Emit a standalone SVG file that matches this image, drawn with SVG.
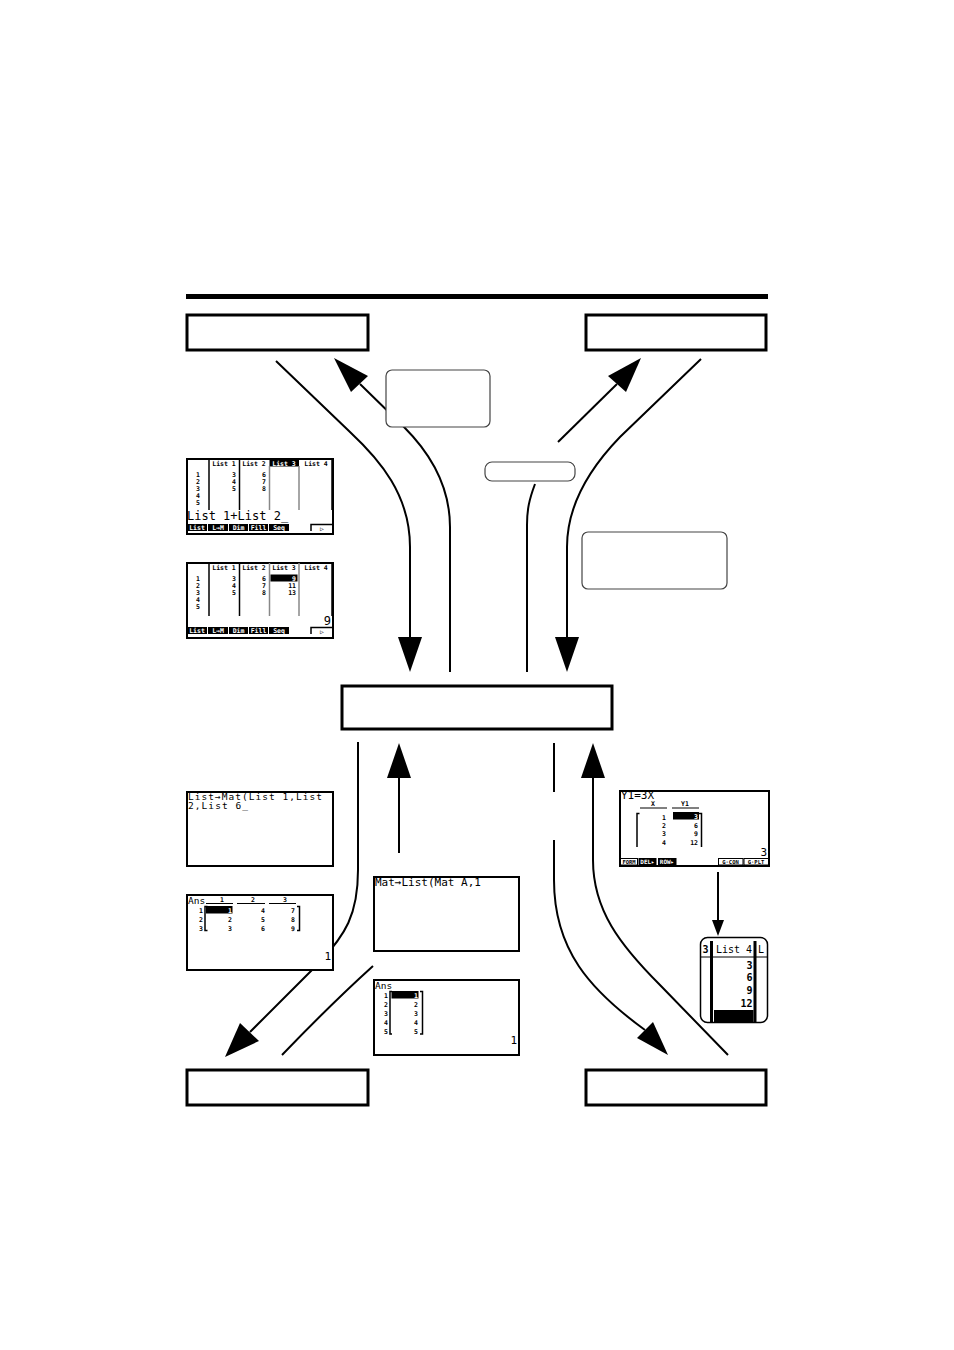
<svg xmlns="http://www.w3.org/2000/svg" width="954" height="1350" viewBox="0 0 954 1350">
<style>
.cn{fill:none;stroke:#000;stroke-width:2}
.ah{fill:#000}
.box{fill:#fff;stroke:#000;stroke-width:3}
.rb{fill:#fff;stroke:#444;stroke-width:1.2}
.scr{fill:#fff;stroke:#000;stroke-width:2}
.t{font-family:"DejaVu Sans Mono","Liberation Mono",monospace;fill:#000}
.s{font-size:6.5px;font-weight:bold}
.m{font-size:11px}
.l{font-size:12px}
.w{fill:#fff}
.e{text-anchor:end}
.c{text-anchor:middle}
.vl{stroke:#000;stroke-width:1.5}
.gl{stroke:#888;stroke-width:1.5}
.tab{fill:#000}
.ot{fill:#fff;stroke:#000;stroke-width:1}
.br{fill:none;stroke:#000;stroke-width:1.5}
</style>

<rect id="topbar" x="186" y="294" width="582" height="5" fill="#000"/>

<g id="connectors">
  <path class="cn" d="M276,361 L350,432 C380,460 410,495 410,547 L410,640"/>
  <polygon class="ah" points="398,637 422,637 410,672"/>
  <path class="cn" d="M450,672 L450,527 C450,482 426,449 404,427 L360,384"/>
  <polygon class="ah" points="334,358 368,376 351,392"/>
  <path class="cn" d="M558,442 L617,384"/>
  <polygon class="ah" points="641,358 608,376 626,392"/>
  <path class="cn" d="M535,484 C529,500 527,510 527,525 L527,672"/>
  <path class="cn" d="M701,359 L620,437 C590,468 567,505 567,547 L567,640"/>
  <polygon class="ah" points="555,637 579,637 567,672"/>
  <path class="cn" d="M358,742 L358,870 C358,915 345,935 320,962 L250,1032"/>
  <polygon class="ah" points="225,1057 240,1023 259,1041"/>
  <path class="cn" d="M373,966 Q330,1005 282,1055"/>
  <path class="cn" d="M399,853 L399,776"/>
  <polygon class="ah" points="387,778 411,778 399,743"/>
  <path class="cn" d="M554,743 L554,792"/>
  <path class="cn" d="M554,840 L554,880 C554,950 590,990 645,1030"/>
  <polygon class="ah" points="668,1055 637,1038 653,1022"/>
  <path class="cn" d="M728,1055 L660,985 C620,945 593,910 593,860 L593,776"/>
  <polygon class="ah" points="581,778 605,778 593,743"/>
  <path class="cn" d="M718,872 L718,921"/>
  <polygon class="ah" points="712,920 724,920 718,936"/>
</g>

<g id="box-top-left"><rect class="box" x="187" y="315" width="181" height="35"/></g>
<g id="box-top-right"><rect class="box" x="586" y="315" width="180" height="35"/></g>
<g id="box-center"><rect class="box" x="342" y="686" width="270" height="43"/></g>
<g id="box-bottom-left"><rect class="box" x="187" y="1070" width="181" height="35"/></g>
<g id="box-bottom-right"><rect class="box" x="586" y="1070" width="180" height="35"/></g>

<g id="note-1"><rect class="rb" x="386" y="370" width="104" height="57" rx="6"/></g>
<g id="note-2"><rect class="rb" x="485" y="462" width="90" height="19" rx="7"/></g>
<g id="note-3"><rect class="rb" x="582" y="532" width="145" height="57" rx="6"/></g>

<g id="screen-list-1">
  <rect class="scr" x="187" y="459" width="146" height="75"/>
  <rect x="269.5" y="459" width="29.5" height="7.5" fill="#000"/>
  <text class="t s c" x="224" y="465.5">List 1</text>
  <text class="t s c" x="254" y="465.5">List 2</text>
  <text class="t s c w" x="284" y="465.5">List 3</text>
  <text class="t s c" x="316" y="465.5">List 4</text>
  <line class="vl" x1="209" y1="459" x2="209" y2="510"/>
  <line class="vl" x1="239.5" y1="459" x2="239.5" y2="510"/>
  <line class="gl" x1="269.5" y1="466" x2="269.5" y2="510"/>
  <line class="gl" x1="299" y1="466" x2="299" y2="510"/>
  <line class="vl" x1="332" y1="459" x2="332" y2="510"/>
  <text class="t s e" x="200" y="476.5">1</text>
  <text class="t s e" x="200" y="483.5">2</text>
  <text class="t s e" x="200" y="490.5">3</text>
  <text class="t s e" x="200" y="497.5">4</text>
  <text class="t s e" x="200" y="504.5">5</text>
  <text class="t s e" x="236" y="476.5">3</text>
  <text class="t s e" x="236" y="483.5">4</text>
  <text class="t s e" x="236" y="490.5">5</text>
  <text class="t s e" x="266" y="476.5">6</text>
  <text class="t s e" x="266" y="483.5">7</text>
  <text class="t s e" x="266" y="490.5">8</text>
  <text class="t l" x="187" y="520">List 1+List 2_</text>
  <rect class="tab" x="187" y="524" width="20" height="7"/>
  <rect class="tab" x="208" y="524" width="20" height="7"/>
  <rect class="tab" x="229" y="524" width="19" height="7"/>
  <rect class="tab" x="249" y="524" width="19" height="7"/>
  <rect class="tab" x="269" y="524" width="20" height="7"/>
  <path class="br" d="M311,531 L311,524.5 L333,524.5"/>
  <text class="t s c w" x="197" y="530">List</text>
  <text class="t s c w" x="218" y="530">L→M</text>
  <text class="t s c w" x="238.5" y="530">Dim</text>
  <text class="t s c w" x="258.5" y="530">Fill</text>
  <text class="t s c w" x="279" y="530">Seq</text>
  <text class="t s c" x="322" y="530.5">▷</text>
</g>

<g id="screen-list-2">
  <rect class="scr" x="187" y="563" width="146" height="75"/>
  <text class="t s c" x="224" y="569.5">List 1</text>
  <text class="t s c" x="254" y="569.5">List 2</text>
  <text class="t s c" x="284" y="569.5">List 3</text>
  <text class="t s c" x="316" y="569.5">List 4</text>
  <line class="vl" x1="209" y1="563" x2="209" y2="616"/>
  <line class="vl" x1="239.5" y1="563" x2="239.5" y2="616"/>
  <line class="gl" x1="269.5" y1="563" x2="269.5" y2="616"/>
  <line class="gl" x1="299" y1="563" x2="299" y2="616"/>
  <line class="vl" x1="332" y1="563" x2="332" y2="616"/>
  <text class="t s e" x="200" y="580.5">1</text>
  <text class="t s e" x="200" y="587.5">2</text>
  <text class="t s e" x="200" y="594.5">3</text>
  <text class="t s e" x="200" y="601.5">4</text>
  <text class="t s e" x="200" y="608.5">5</text>
  <text class="t s e" x="236" y="580.5">3</text>
  <text class="t s e" x="236" y="587.5">4</text>
  <text class="t s e" x="236" y="594.5">5</text>
  <text class="t s e" x="266" y="580.5">6</text>
  <text class="t s e" x="266" y="587.5">7</text>
  <text class="t s e" x="266" y="594.5">8</text>
  <rect x="270.5" y="574.5" width="27" height="7" fill="#000"/>
  <text class="t s e w" x="296" y="580.5">9</text>
  <text class="t s e" x="296" y="587.5">11</text>
  <text class="t s e" x="296" y="594.5">13</text>
  <text class="t l e" x="331" y="625">9</text>
  <rect class="tab" x="187" y="627" width="20" height="7"/>
  <rect class="tab" x="208" y="627" width="20" height="7"/>
  <rect class="tab" x="229" y="627" width="19" height="7"/>
  <rect class="tab" x="249" y="627" width="19" height="7"/>
  <rect class="tab" x="269" y="627" width="20" height="7"/>
  <path class="br" d="M311,634 L311,627.5 L333,627.5"/>
  <text class="t s c w" x="197" y="633">List</text>
  <text class="t s c w" x="218" y="633">L→M</text>
  <text class="t s c w" x="238.5" y="633">Dim</text>
  <text class="t s c w" x="258.5" y="633">Fill</text>
  <text class="t s c w" x="279" y="633">Seq</text>
  <text class="t s c" x="322" y="633.5">▷</text>
</g>

<g id="screen-list-to-mat">
  <rect class="scr" x="187" y="792" width="146" height="74"/>
  <text class="t" x="188" y="799.5" style="font-size:9.5px" textLength="134" lengthAdjust="spacing">List→Mat(List 1,List</text>
  <text class="t" x="188" y="809" style="font-size:9.5px" textLength="60" lengthAdjust="spacing">2,List 6_</text>
</g>

<g id="screen-ans-matrix">
  <rect class="scr" x="187" y="895" width="146" height="75"/>
  <text class="t" x="188" y="903.5" style="font-size:9.5px">Ans</text>
  <text class="t s c" x="222" y="901.5">1</text>
  <text class="t s c" x="253" y="901.5">2</text>
  <text class="t s c" x="285" y="901.5">3</text>
  <path class="br" d="M206,903.5 L233,903.5 M237,903.5 L265,903.5 M269,903.5 L296,903.5" style="stroke-width:1"/>
  <text class="t s e" x="203" y="912.5">1</text>
  <text class="t s e" x="203" y="921.5">2</text>
  <text class="t s e" x="203" y="930.5">3</text>
  <path class="br" d="M207.5,906.5 L205,906.5 L205,930.5 L207.5,930.5"/>
  <rect x="206" y="906" width="26.5" height="7.5" fill="#000"/>
  <text class="t s e w" x="232" y="912.5">1</text>
  <text class="t s e" x="232" y="921.5">2</text>
  <text class="t s e" x="232" y="930.5">3</text>
  <text class="t s e" x="265" y="912.5">4</text>
  <text class="t s e" x="265" y="921.5">5</text>
  <text class="t s e" x="265" y="930.5">6</text>
  <text class="t s e" x="295" y="912.5">7</text>
  <text class="t s e" x="295" y="921.5">8</text>
  <text class="t s e" x="295" y="930.5">9</text>
  <path class="br" d="M297,906.5 L299.5,906.5 L299.5,930.5 L297,930.5"/>
  <text class="t m e" x="331" y="960">1</text>
</g>

<g id="screen-mat-to-list">
  <rect class="scr" x="374" y="877" width="145" height="74"/>
  <text class="t m" x="375" y="885.5">Mat→List(Mat A,1</text>
</g>

<g id="screen-ans-column">
  <rect class="scr" x="374" y="980" width="145" height="75"/>
  <text class="t" x="375" y="988.5" style="font-size:9.5px">Ans</text>
  <text class="t s e" x="388" y="997.5">1</text>
  <text class="t s e" x="388" y="1006.5">2</text>
  <text class="t s e" x="388" y="1015.5">3</text>
  <text class="t s e" x="388" y="1024.5">4</text>
  <text class="t s e" x="388" y="1034">5</text>
  <path class="br" d="M392,991.5 L390,991.5 L390,1034 L392,1034"/>
  <rect x="391.5" y="991" width="27" height="7.5" fill="#000"/>
  <text class="t s e w" x="418" y="997.5">1</text>
  <text class="t s e" x="418" y="1006.5">2</text>
  <text class="t s e" x="418" y="1015.5">3</text>
  <text class="t s e" x="418" y="1024.5">4</text>
  <text class="t s e" x="418" y="1034">5</text>
  <path class="br" d="M420,991.5 L422.5,991.5 L422.5,1034 L420,1034"/>
  <text class="t m e" x="517" y="1044">1</text>
</g>

<g id="screen-table">
  <rect class="scr" x="620" y="791" width="149" height="75"/>
  <text class="t" x="621" y="799" style="font-size:11px">Y1=3X</text>
  <text class="t s c" x="653" y="805.5">X</text>
  <text class="t s c" x="685" y="805.5">Y1</text>
  <path class="br" d="M640,808 L667,808 M672,808 L699,808" style="stroke-width:1"/>
  <path class="br" d="M639.5,813.5 L637,813.5 L637,847"/>
  <path class="br" d="M699,813.5 L701.5,813.5 L701.5,847"/>
  <text class="t s e" x="666" y="819.5">1</text>
  <text class="t s e" x="666" y="827.5">2</text>
  <text class="t s e" x="666" y="835.5">3</text>
  <text class="t s e" x="666" y="844.5">4</text>
  <rect x="673" y="812" width="26" height="7.5" fill="#000"/>
  <text class="t s e w" x="698" y="818.5">3</text>
  <text class="t s e" x="698" y="827.5">6</text>
  <text class="t s e" x="698" y="835.5">9</text>
  <text class="t s e" x="698" y="844.5">12</text>
  <text class="t m e" x="767" y="856">3</text>
  <rect class="ot" x="620.5" y="858.5" width="17" height="6.5"/>
  <rect class="tab" x="638.5" y="858" width="18" height="7"/>
  <rect class="tab" x="658" y="858" width="18.5" height="7"/>
  <rect class="ot" x="718.5" y="858.5" width="24.5" height="6.5"/>
  <rect class="ot" x="744" y="858.5" width="24.5" height="6.5"/>
  <text class="t c" x="629" y="864" style="font-size:5.5px;font-weight:bold">FORM</text>
  <text class="t c w" x="647.5" y="864" style="font-size:6px;font-weight:bold">DEL▸</text>
  <text class="t c w" x="667" y="864" style="font-size:6px;font-weight:bold">ROW▸</text>
  <text class="t c" x="730.5" y="864" style="font-size:5.5px;font-weight:bold">G·CON</text>
  <text class="t c" x="756" y="864" style="font-size:5.5px;font-weight:bold">G·PLT</text>
</g>

<g id="screen-list4-zoom">
  <rect x="700.5" y="937.5" width="67" height="85" rx="7" fill="#fff" stroke="#000" stroke-width="1.5"/>
  <line x1="701" y1="957" x2="767" y2="957" stroke="#000" stroke-width="1"/>
  <line x1="711.5" y1="941" x2="711.5" y2="1022" stroke="#000" stroke-width="3"/>
  <line x1="755" y1="941" x2="755" y2="1022" stroke="#000" stroke-width="3"/>
  <text class="t" x="702.5" y="953" style="font-size:10px;font-weight:bold">3</text>
  <text class="t" x="716" y="953" style="font-size:10px">List 4</text>
  <text class="t" x="758" y="953" style="font-size:10px">L</text>
  <text class="t e" x="752.5" y="969" style="font-size:10px;font-weight:bold">3</text>
  <text class="t e" x="752.5" y="981" style="font-size:10px;font-weight:bold">6</text>
  <text class="t e" x="752.5" y="994" style="font-size:10px;font-weight:bold">9</text>
  <text class="t e" x="752.5" y="1007" style="font-size:10px;font-weight:bold">12</text>
  <rect x="714" y="1010" width="39.5" height="12" fill="#000"/>
</g>
</svg>
